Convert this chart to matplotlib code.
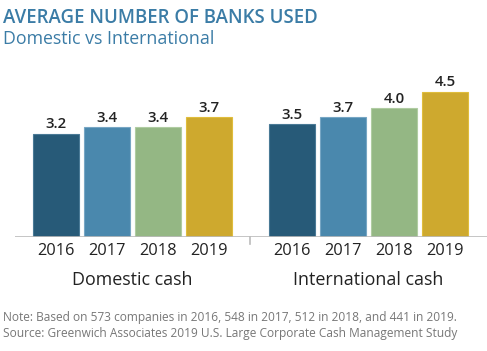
import matplotlib.pyplot as plt
from matplotlib.lines import Line2D

years = ["2016", "2017", "2018", "2019"]
groups = ["Domestic cash", "International cash"]
domestic = [3.2, 3.4, 3.4, 3.7]
international = [3.5, 3.7, 4.0, 4.5]
colors = ["#275a78", "#4a88ad", "#94b784", "#cea92e"]
edge_colors = ["#4a7a96", "#77a6c4", "#b0cca2", "#e0bd3c"]

title = "AVERAGE NUMBER OF BANKS USED"
subtitle = "Domestic vs International"
note = "Note: Based on 573 companies in 2016, 548 in 2017, 512 in 2018, and 441 in 2019."
source = "Source: Greenwich Associates 2019 U.S. Large Corporate Cash Management Study"

plt.rcParams['font.family'] = ['Open Sans', 'DejaVu Sans']

W, H = 487, 351
fig = plt.figure(figsize=(W / 100, H / 100), dpi=100)

def fx(px):
    return px / W

def fy(py):
    return 1 - py / H

ax_left, ax_right = 15, 487
ax_bottom, ax_top = 237, 60
ax = fig.add_axes([fx(ax_left), fy(ax_bottom), fx(ax_right - ax_left), (ax_bottom - ax_top) / H])
ax.set_xlim(-0.80, 8.45)
ax.set_ylim(0, (ax_bottom - ax_top) / 32.3)

offset = 4.63
width = 0.9
group_pos = []
for g, vals in enumerate([domestic, international]):
    xs = [i + g * offset for i in range(len(years))]
    group_pos.append(sum(xs) / len(xs))
    for x, v, c, ec, yr in zip(xs, vals, colors, edge_colors, years):
        ax.bar(x, v, width=width, color=c, edgecolor=ec, linewidth=0.8, zorder=2)
        ax.text(x, v + 0.07, f"{v:.1f}", ha="center", va="bottom",
                fontsize=10.8, fontweight="semibold", color="#222222")
        ax.text(x, -0.2, yr, ha="center", va="top", fontsize=11.8, color="#222222")
    ax.text(group_pos[-1], -1.05, groups[g], ha="center", va="top",
            fontsize=12.9, color="#222222")

for s in ax.spines.values():
    s.set_visible(False)
ax.set_xticks([])
ax.set_yticks([])
ax.patch.set_alpha(0)

ax.axhline(0, color="#bbbbbb", linewidth=1.2, zorder=3)
sep = (3 + offset) / 2
ax.add_line(Line2D([sep, sep], [0, -0.22], color="#bbbbbb", linewidth=1.2, clip_on=False))

fig.text(fx(3), fy(18), title, ha="left", va="center", fontsize=13.4,
         fontweight="semibold", color="#3b7ca6")
fig.text(fx(3), fy(39), subtitle, ha="left", va="center", fontsize=12.8, color="#3b7ca6")
fig.text(fx(3), fy(318), note, ha="left", va="center", fontsize=8.6, color="#777777")
fig.text(fx(3), fy(334), source, ha="left", va="center", fontsize=8.6, color="#777777")

fig.savefig("out.png", dpi=100)
